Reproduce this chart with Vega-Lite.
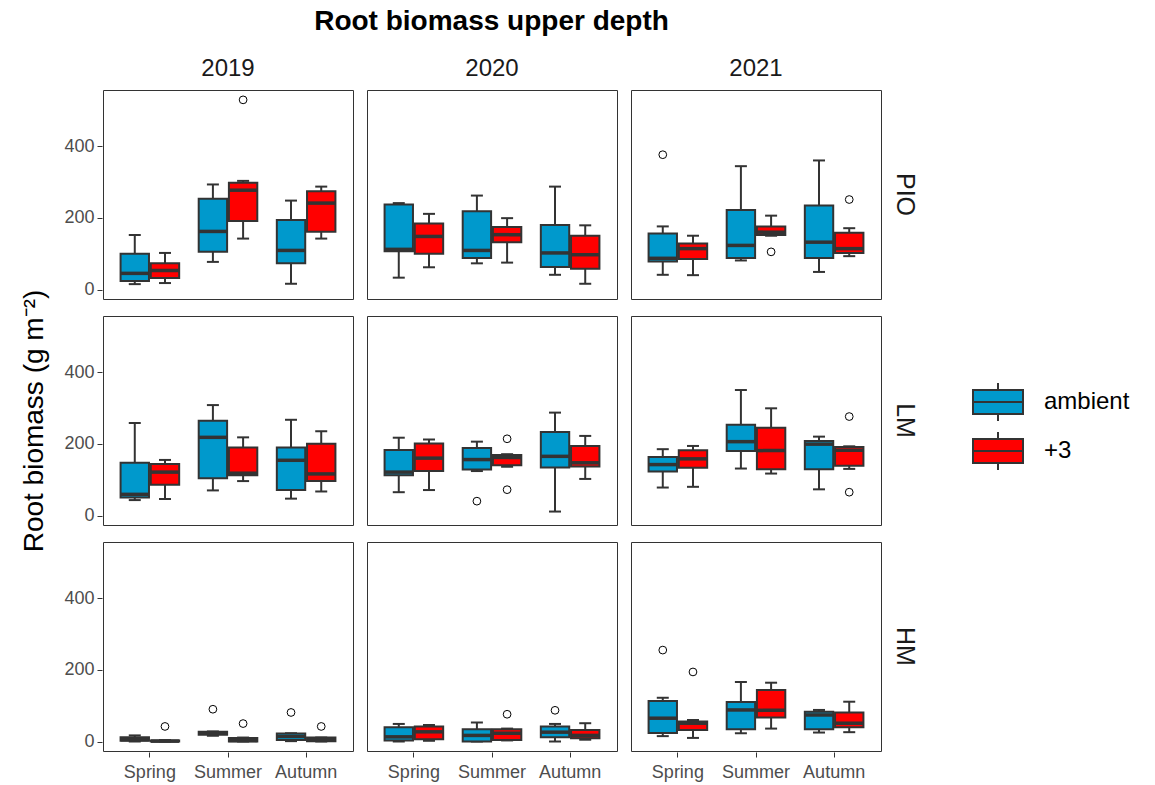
{
  "$schema": "https://vega.github.io/schema/vega-lite/v6.json",
  "padding": {"left": 20, "top": 8, "right": 5, "bottom": 5},
  "title": {
    "text": "Root biomass upper depth",
    "fontSize": 28,
    "fontWeight": "bold",
    "font": "Liberation Sans",
    "color": "#000000",
    "anchor": "middle",
    "offset": 20,
    "dx": -84,
    "dy": -1
  },
  "datasets": {
    "roots": [
      {"site": "PIO", "year": "2019", "season": "Spring", "treatment": "ambient", "lower": 15, "q1": 24, "median": 45, "q3": 100, "upper": 152},
      {"site": "PIO", "year": "2019", "season": "Spring", "treatment": "+3", "lower": 18, "q1": 32, "median": 53, "q3": 73, "upper": 102},
      {"site": "PIO", "year": "2019", "season": "Summer", "treatment": "ambient", "lower": 77, "q1": 105, "median": 162, "q3": 253, "upper": 293},
      {"site": "PIO", "year": "2019", "season": "Summer", "treatment": "+3", "lower": 142, "q1": 191, "median": 277, "q3": 298, "upper": 303},
      {"site": "PIO", "year": "2019", "season": "Summer", "treatment": "+3", "outlier": 529},
      {"site": "PIO", "year": "2019", "season": "Autumn", "treatment": "ambient", "lower": 16, "q1": 73, "median": 109, "q3": 194, "upper": 248},
      {"site": "PIO", "year": "2019", "season": "Autumn", "treatment": "+3", "lower": 142, "q1": 161, "median": 241, "q3": 274, "upper": 287},

      {"site": "PIO", "year": "2020", "season": "Spring", "treatment": "ambient", "lower": 33, "q1": 107, "median": 112, "q3": 237, "upper": 241},
      {"site": "PIO", "year": "2020", "season": "Spring", "treatment": "+3", "lower": 62, "q1": 100, "median": 148, "q3": 184, "upper": 211},
      {"site": "PIO", "year": "2020", "season": "Summer", "treatment": "ambient", "lower": 73, "q1": 88, "median": 109, "q3": 218, "upper": 262},
      {"site": "PIO", "year": "2020", "season": "Summer", "treatment": "+3", "lower": 75, "q1": 132, "median": 153, "q3": 174, "upper": 199},
      {"site": "PIO", "year": "2020", "season": "Autumn", "treatment": "ambient", "lower": 41, "q1": 63, "median": 102, "q3": 180, "upper": 287},
      {"site": "PIO", "year": "2020", "season": "Autumn", "treatment": "+3", "lower": 16, "q1": 58, "median": 97, "q3": 150, "upper": 179},

      {"site": "PIO", "year": "2021", "season": "Spring", "treatment": "ambient", "lower": 41, "q1": 78, "median": 87, "q3": 156, "upper": 176},
      {"site": "PIO", "year": "2021", "season": "Spring", "treatment": "ambient", "outlier": 376},
      {"site": "PIO", "year": "2021", "season": "Spring", "treatment": "+3", "lower": 40, "q1": 85, "median": 114, "q3": 128, "upper": 150},
      {"site": "PIO", "year": "2021", "season": "Summer", "treatment": "ambient", "lower": 81, "q1": 88, "median": 123, "q3": 222, "upper": 344},
      {"site": "PIO", "year": "2021", "season": "Summer", "treatment": "+3", "lower": 150, "q1": 152, "median": 160, "q3": 176, "upper": 206},
      {"site": "PIO", "year": "2021", "season": "Summer", "treatment": "+3", "outlier": 105},
      {"site": "PIO", "year": "2021", "season": "Autumn", "treatment": "ambient", "lower": 49, "q1": 88, "median": 132, "q3": 234, "upper": 360},
      {"site": "PIO", "year": "2021", "season": "Autumn", "treatment": "+3", "lower": 93, "q1": 102, "median": 114, "q3": 158, "upper": 171},
      {"site": "PIO", "year": "2021", "season": "Autumn", "treatment": "+3", "outlier": 251},

      {"site": "LM", "year": "2019", "season": "Spring", "treatment": "ambient", "lower": 43, "q1": 50, "median": 59, "q3": 147, "upper": 258},
      {"site": "LM", "year": "2019", "season": "Spring", "treatment": "+3", "lower": 46, "q1": 86, "median": 121, "q3": 144, "upper": 155},
      {"site": "LM", "year": "2019", "season": "Summer", "treatment": "ambient", "lower": 70, "q1": 104, "median": 218, "q3": 264, "upper": 308},
      {"site": "LM", "year": "2019", "season": "Summer", "treatment": "+3", "lower": 96, "q1": 112, "median": 118, "q3": 190, "upper": 218},
      {"site": "LM", "year": "2019", "season": "Autumn", "treatment": "ambient", "lower": 47, "q1": 71, "median": 154, "q3": 190, "upper": 267},
      {"site": "LM", "year": "2019", "season": "Autumn", "treatment": "+3", "lower": 67, "q1": 96, "median": 116, "q3": 200, "upper": 235},

      {"site": "LM", "year": "2020", "season": "Spring", "treatment": "ambient", "lower": 65, "q1": 112, "median": 121, "q3": 183, "upper": 217},
      {"site": "LM", "year": "2020", "season": "Spring", "treatment": "+3", "lower": 71, "q1": 124, "median": 160, "q3": 201, "upper": 212},
      {"site": "LM", "year": "2020", "season": "Summer", "treatment": "ambient", "lower": 124, "q1": 128, "median": 156, "q3": 188, "upper": 206},
      {"site": "LM", "year": "2020", "season": "Summer", "treatment": "ambient", "outlier": 40},
      {"site": "LM", "year": "2020", "season": "Summer", "treatment": "+3", "lower": 136, "q1": 140, "median": 162, "q3": 169, "upper": 171},
      {"site": "LM", "year": "2020", "season": "Summer", "treatment": "+3", "outlier": 214},
      {"site": "LM", "year": "2020", "season": "Summer", "treatment": "+3", "outlier": 72},
      {"site": "LM", "year": "2020", "season": "Autumn", "treatment": "ambient", "lower": 11, "q1": 134, "median": 165, "q3": 233, "upper": 287},
      {"site": "LM", "year": "2020", "season": "Autumn", "treatment": "+3", "lower": 102, "q1": 137, "median": 147, "q3": 194, "upper": 222},

      {"site": "LM", "year": "2021", "season": "Spring", "treatment": "ambient", "lower": 78, "q1": 123, "median": 142, "q3": 163, "upper": 185},
      {"site": "LM", "year": "2021", "season": "Spring", "treatment": "+3", "lower": 80, "q1": 133, "median": 158, "q3": 182, "upper": 194},
      {"site": "LM", "year": "2021", "season": "Summer", "treatment": "ambient", "lower": 131, "q1": 180, "median": 206, "q3": 253, "upper": 350},
      {"site": "LM", "year": "2021", "season": "Summer", "treatment": "+3", "lower": 117, "q1": 129, "median": 181, "q3": 245, "upper": 299},
      {"site": "LM", "year": "2021", "season": "Autumn", "treatment": "ambient", "lower": 73, "q1": 129, "median": 199, "q3": 208, "upper": 220},
      {"site": "LM", "year": "2021", "season": "Autumn", "treatment": "+3", "lower": 130, "q1": 139, "median": 182, "q3": 191, "upper": 193},
      {"site": "LM", "year": "2021", "season": "Autumn", "treatment": "+3", "outlier": 276},
      {"site": "LM", "year": "2021", "season": "Autumn", "treatment": "+3", "outlier": 65},

      {"site": "HM", "year": "2019", "season": "Spring", "treatment": "ambient", "lower": 0, "q1": 2, "median": 5, "q3": 12, "upper": 17},
      {"site": "HM", "year": "2019", "season": "Spring", "treatment": "+3", "lower": 0, "q1": 0, "median": 1, "q3": 3, "upper": 4},
      {"site": "HM", "year": "2019", "season": "Spring", "treatment": "+3", "outlier": 42},
      {"site": "HM", "year": "2019", "season": "Summer", "treatment": "ambient", "lower": 16, "q1": 19, "median": 23, "q3": 27, "upper": 28},
      {"site": "HM", "year": "2019", "season": "Summer", "treatment": "ambient", "outlier": 90},
      {"site": "HM", "year": "2019", "season": "Summer", "treatment": "+3", "lower": 0, "q1": 0, "median": 3, "q3": 10, "upper": 11},
      {"site": "HM", "year": "2019", "season": "Summer", "treatment": "+3", "outlier": 50},
      {"site": "HM", "year": "2019", "season": "Autumn", "treatment": "ambient", "lower": 1, "q1": 4, "median": 14, "q3": 22, "upper": 23},
      {"site": "HM", "year": "2019", "season": "Autumn", "treatment": "ambient", "outlier": 81},
      {"site": "HM", "year": "2019", "season": "Autumn", "treatment": "+3", "lower": 0, "q1": 1, "median": 5, "q3": 11, "upper": 11},
      {"site": "HM", "year": "2019", "season": "Autumn", "treatment": "+3", "outlier": 42},

      {"site": "HM", "year": "2020", "season": "Spring", "treatment": "ambient", "lower": 0, "q1": 3, "median": 13, "q3": 40, "upper": 49},
      {"site": "HM", "year": "2020", "season": "Spring", "treatment": "+3", "lower": 2, "q1": 6, "median": 27, "q3": 42, "upper": 46},
      {"site": "HM", "year": "2020", "season": "Summer", "treatment": "ambient", "lower": 0, "q1": 0, "median": 17, "q3": 34, "upper": 53},
      {"site": "HM", "year": "2020", "season": "Summer", "treatment": "+3", "lower": 3, "q1": 4, "median": 23, "q3": 34, "upper": 36},
      {"site": "HM", "year": "2020", "season": "Summer", "treatment": "+3", "outlier": 76},
      {"site": "HM", "year": "2020", "season": "Autumn", "treatment": "ambient", "lower": 0, "q1": 12, "median": 26, "q3": 42, "upper": 49},
      {"site": "HM", "year": "2020", "season": "Autumn", "treatment": "ambient", "outlier": 87},
      {"site": "HM", "year": "2020", "season": "Autumn", "treatment": "+3", "lower": 5, "q1": 9, "median": 17, "q3": 32, "upper": 51},

      {"site": "HM", "year": "2021", "season": "Spring", "treatment": "ambient", "lower": 15, "q1": 24, "median": 65, "q3": 113, "upper": 122},
      {"site": "HM", "year": "2021", "season": "Spring", "treatment": "ambient", "outlier": 255},
      {"site": "HM", "year": "2021", "season": "Spring", "treatment": "+3", "lower": 10, "q1": 32, "median": 51, "q3": 56, "upper": 60},
      {"site": "HM", "year": "2021", "season": "Spring", "treatment": "+3", "outlier": 194},
      {"site": "HM", "year": "2021", "season": "Summer", "treatment": "ambient", "lower": 23, "q1": 34, "median": 88, "q3": 110, "upper": 166},
      {"site": "HM", "year": "2021", "season": "Summer", "treatment": "+3", "lower": 36, "q1": 67, "median": 87, "q3": 144, "upper": 164},
      {"site": "HM", "year": "2021", "season": "Autumn", "treatment": "ambient", "lower": 25, "q1": 34, "median": 74, "q3": 83, "upper": 88},
      {"site": "HM", "year": "2021", "season": "Autumn", "treatment": "+3", "lower": 26, "q1": 40, "median": 51, "q3": 81, "upper": 111}
    ]
  },
  "data": {"name": "roots"},
  "facet": {
    "column": {
      "field": "year",
      "type": "ordinal",
      "sort": ["2019", "2020", "2021"],
      "header": {
        "title": null,
        "labelFontSize": 24,
        "labelFont": "Liberation Sans",
        "labelColor": "#1a1a1a",
        "labelPadding": 8
      }
    },
    "row": {
      "field": "site",
      "type": "nominal",
      "sort": ["PIO", "LM", "HM"],
      "header": {
        "title": "Root biomass (g m⁻²)",
        "titleOrient": "left",
        "titleFontSize": 28,
        "titleFont": "Liberation Sans",
        "titleFontWeight": "normal",
        "titleColor": "#000000",
        "titlePadding": 4,
        "labelOrient": "right",
        "labelAngle": 90,
        "labelFontSize": 25,
        "labelFont": "Liberation Sans",
        "labelColor": "#1a1a1a",
        "labelPadding": 10
      }
    }
  },
  "spacing": {"row": 15, "column": 12},
  "spec": {
    "width": 250,
    "height": 209,
    "encoding": {
      "x": {
        "field": "season",
        "type": "nominal",
        "sort": ["Spring", "Summer", "Autumn"],
        "scale": {"paddingInner": 0.25, "paddingOuter": 0.225},
        "axis": {
          "title": null,
          "domain": false,
          "labelAngle": 0,
          "labelFontSize": 18,
          "labelFont": "Liberation Sans",
          "labelColor": "#4d4d4d",
          "tickColor": "#333333",
          "tickSize": 5,
          "labelPadding": 6
        }
      },
      "xOffset": {
        "field": "treatment",
        "type": "nominal",
        "sort": ["ambient", "+3"],
        "scale": {"paddingInner": 0.06, "paddingOuter": 0}
      }
    },
    "layer": [
      {
        "transform": [{"filter": "isValid(datum.q1)"}],
        "mark": {"type": "rule", "color": "#333333", "strokeWidth": 2},
        "encoding": {
          "y": {
            "field": "lower",
            "type": "quantitative",
            "scale": {"domain": [-26.5, 556.5], "nice": false, "zero": false},
            "axis": {
              "title": null,
              "values": [0, 200, 400],
              "grid": false,
              "domain": false,
              "labelFontSize": 18,
              "labelFont": "Liberation Sans",
              "labelColor": "#4d4d4d",
              "tickColor": "#333333",
              "tickSize": 5,
              "labelPadding": 3
            }
          },
          "y2": {"field": "upper"}
        }
      },
      {
        "transform": [{"filter": "isValid(datum.q1)"}],
        "mark": {"type": "tick", "color": "#333333", "size": 12, "thickness": 2, "opacity": 1},
        "encoding": {"y": {"field": "lower", "type": "quantitative"}}
      },
      {
        "transform": [{"filter": "isValid(datum.q1)"}],
        "mark": {"type": "tick", "color": "#333333", "size": 12, "thickness": 2, "opacity": 1},
        "encoding": {"y": {"field": "upper", "type": "quantitative"}}
      },
      {
        "transform": [{"filter": "isValid(datum.q1)"}],
        "mark": {"type": "bar", "stroke": "#333333", "strokeWidth": 2, "opacity": 1},
        "encoding": {
          "y": {"field": "q1", "type": "quantitative"},
          "y2": {"field": "q3"},
          "fill": {
            "field": "treatment",
            "type": "nominal",
            "sort": ["ambient", "+3"],
            "scale": {"domain": ["ambient", "+3"], "range": ["#0099CC", "#FF0000"]},
            "legend": {
              "title": null,
              "orient": "none",
              "legendX": 869,
              "legendY": 286,
              "padding": 0,
              "symbolType": "M-1,-0.48H1V0.48H-1Z M-1,0H1 M0,-0.48V-0.76 M0,0.48V0.76",
              "symbolSize": 2500,
              "symbolStrokeColor": "#333333",
              "symbolStrokeWidth": 2,
              "symbolOpacity": 1,
              "labelFontSize": 24,
              "labelFont": "Liberation Sans",
              "labelColor": "#000000",
              "labelOffset": 20,
              "rowPadding": 0
            }
          }
        }
      },
      {
        "transform": [{"filter": "isValid(datum.q1)"}],
        "mark": {"type": "tick", "color": "#333333", "size": 28, "thickness": 3.5, "opacity": 1},
        "encoding": {"y": {"field": "median", "type": "quantitative"}}
      },
      {
        "transform": [{"filter": "isValid(datum.outlier)"}],
        "mark": {"type": "point", "shape": "circle", "filled": false, "stroke": "#000000", "strokeWidth": 1, "size": 60, "opacity": 1},
        "encoding": {"y": {"field": "outlier", "type": "quantitative"}}
      }
    ]
  },
  "config": {
    "font": "Liberation Sans",
    "view": {"stroke": "#333333", "strokeWidth": 1},
    "background": "#ffffff"
  }
}
